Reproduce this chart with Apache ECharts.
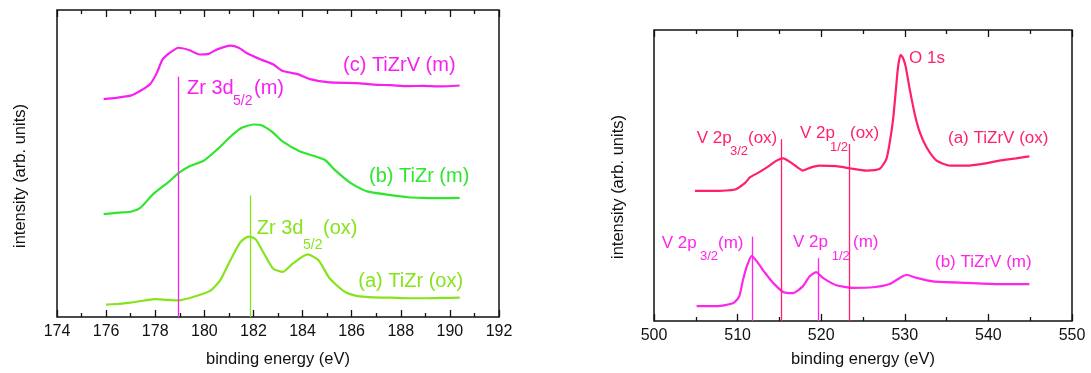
<!DOCTYPE html>
<html><head><meta charset="utf-8">
<script src="https://cdn.jsdelivr.net/npm/echarts@6/dist/echarts.min.js"></script>
<style>html,body{margin:0;padding:0;background:#fff}#c{width:1091px;height:373px}</style>
</head><body><div id="c"></div>
<script>
// ---------- data (binding energy eV, intensity arb. units 0-100) ----------
const zrAxis = { min: 174, max: 192, interval: 2 };
const vAxis  = { min: 500, max: 550, interval: 10 };

const zrC_TiZrV_m = [[175.9,71.0],[176.4,71.4],[177.0,72.1],[177.4,73.7],[177.8,75.9],[178.07,79.6],[178.3,83.9],[178.6,86.1],[178.95,87.7],[179.4,86.9],[179.8,85.5],[180.2,85.8],[180.5,87.1],[181.06,88.4],[181.4,87.7],[181.7,86.1],[182.3,83.9],[182.8,82.3],[183.2,80.1],[183.8,79.1],[184.3,77.5],[185.1,76.4],[186.2,76.2],[186.9,75.7],[187.6,75.5],[188.3,75.2],[188.9,75.3],[189.6,75.1],[190.4,75.4]];
const zrB_TiZr_m = [[175.9,33.5],[176.5,34.0],[177.0,34.3],[177.4,35.6],[177.9,39.9],[178.5,43.7],[178.95,46.9],[179.4,49.1],[179.97,50.9],[180.5,54.4],[181.06,58.7],[181.47,61.4],[182.0,62.7],[182.35,62.4],[182.76,60.3],[183.2,57.1],[183.9,53.9],[184.9,51.2],[185.3,48.0],[185.95,43.7],[186.6,41.0],[187.6,39.7],[188.3,39.0],[188.9,38.8],[189.6,38.7],[190.4,38.8]];
const zrA_TiZr_ox = [[176.0,4.0],[176.5,4.3],[177.0,4.7],[177.5,5.3],[178.0,5.8],[178.95,5.4],[179.7,6.9],[180.25,8.6],[180.65,12.0],[181.06,18.5],[181.47,24.4],[181.8,26.2],[182.08,25.4],[182.4,21.1],[182.8,15.8],[183.2,14.7],[183.6,17.4],[184.2,20.4],[184.65,18.5],[185.1,12.6],[185.7,8.3],[186.2,6.9],[186.9,6.4],[187.6,6.3],[188.3,6.1],[188.9,6.1],[189.6,6.2],[190.4,6.3]];
const zrLineEnergies = [178.95, 181.87];
const zrLineTops = [78.3, 39.6];

const vA_TiZrV_ox = [[504.9,44.7],[506.9,44.7],[509.7,45.2],[510.9,47.5],[511.5,49.4],[512.5,51.0],[513.5,52.8],[514.66,55.1],[515.45,55.9],[516.6,54.0],[517.8,51.7],[518.8,52.8],[519.8,53.4],[521.8,53.2],[523.4,52.5],[525.4,51.7],[527.0,52.3],[527.8,55.7],[528.2,61.4],[528.6,69.3],[528.9,78.4],[529.2,87.5],[529.5,91.5],[529.8,90.3],[530.1,87.5],[530.6,79.5],[531.2,71.0],[531.8,64.8],[532.6,59.7],[533.8,55.1],[535.4,53.4],[537.4,53.4],[539.3,54.0],[541.3,55.1],[543.3,55.9],[544.9,56.6]];
const vB_TiZrV_m = [[505.1,5.1],[507.5,5.1],[509.5,6.2],[510.2,8.5],[510.6,13.6],[511.1,18.8],[511.7,22.4],[512.3,20.5],[513.3,16.5],[514.25,13.1],[515.45,10.0],[516.6,9.6],[517.8,11.9],[518.6,15.3],[519.4,16.8],[520.2,14.8],[521.8,12.3],[523.8,11.4],[526.2,11.6],[528.2,12.7],[529.4,14.8],[530.2,15.9],[531.4,14.8],[533.4,13.6],[537.4,13.1],[541.3,12.7],[544.9,12.7]];
const vOxLineEnergies = [515.2, 523.3];
const vOxLineTops = [62.5, 60.8];
const vMLineEnergies = [511.8, 519.6];
const vMLineTops = [29.0, 21.6];

// ---------- styles ----------
const FONT = '"Liberation Sans", Arial, Helvetica, sans-serif';
const MAG = '#f820f0', GRN = '#2fe62f', LGR = '#86e41c', CRM = '#ff1f6c', MAG2 = '#ff26ec';

function vLines(energies, tops, color) {
  return {
    symbol: 'none', silent: true, label: { show: false }, animation: false,
    lineStyle: { type: 'solid', color: color, width: 1.3 },
    data: energies.map((e, i) => [{ coord: [e, tops[i]] }, { coord: [e, 0] }])
  };
}
function xAx(gi, cfg, pos, name, gap) {
  return {
    type: 'value', gridIndex: gi, position: pos, min: cfg.min, max: cfg.max, interval: cfg.interval,
    axisLine: { show: false },
    axisTick: { show: true, inside: true, length: 7, lineStyle: { color: '#111', width: 1.3 } },
    minorTick: { show: true, splitNumber: 2, length: 4, lineStyle: { color: '#111', width: 1.3 } },
    splitLine: { show: false }, minorSplitLine: { show: false },
    axisLabel: { show: pos === 'bottom', fontSize: 16, color: '#111', fontFamily: FONT, margin: 7 },
    name: pos === 'bottom' ? name : '', nameLocation: 'middle', nameGap: gap,
    nameTextStyle: { fontSize: 16.5, color: '#111', fontFamily: FONT }
  };
}
function yAx(gi) { return { type: 'value', gridIndex: gi, min: 0, max: 100, show: false }; }
function ser(data, color, xi, yi, ml) {
  const s = { type: 'line', data: data, xAxisIndex: xi, yAxisIndex: yi, showSymbol: false, symbol: 'none',
    smooth: 0.2, lineStyle: { color: color, width: 2.2 }, itemStyle: { color: color }, animation: false, z: 3 };
  if (ml) s.markLine = ml;
  return s;
}
function txt(str, x, y, color, size) {
  return { type: 'text', x: x, y: y, silent: true, z: 10,
    style: { text: str, fill: color, font: size + 'px ' + FONT, textAlign: 'left', textVerticalAlign: 'middle' } };
}

const option = {
  animation: false,
  backgroundColor: '#fff',
  grid: [
    { left: 57, top: 10, width: 442, height: 311, show: true, borderColor: '#111', borderWidth: 1.5, backgroundColor: 'transparent' },
    { left: 654, top: 30, width: 418, height: 293, show: true, borderColor: '#111', borderWidth: 1.5, backgroundColor: 'transparent' }
  ],
  xAxis: [
    xAx(0, zrAxis, 'bottom', 'binding energy (eV)', 34),
    xAx(0, zrAxis, 'top', '', 0),
    xAx(1, vAxis, 'bottom', 'binding energy (eV)', 30),
    xAx(1, vAxis, 'top', '', 0)
  ],
  yAxis: [yAx(0), yAx(1)],
  series: [
    ser(zrC_TiZrV_m, MAG, 0, 0, vLines([zrLineEnergies[0]], [zrLineTops[0]], MAG)),
    ser(zrB_TiZr_m, GRN, 0, 0),
    ser(zrA_TiZr_ox, LGR, 0, 0, vLines([zrLineEnergies[1]], [zrLineTops[1]], LGR)),
    ser(vA_TiZrV_ox, CRM, 2, 1, vLines(vOxLineEnergies, vOxLineTops, CRM)),
    ser(vB_TiZrV_m, MAG2, 2, 1, vLines(vMLineEnergies, vMLineTops, MAG2))
  ],
  graphic: [
    { type: 'text', x: 20, y: 176, rotation: Math.PI / 2, silent: true,
      style: { text: 'intensity (arb. units)', fill: '#111', font: '16.5px ' + FONT, textAlign: 'center', textVerticalAlign: 'middle' } },
    { type: 'text', x: 618, y: 187, rotation: Math.PI / 2, silent: true,
      style: { text: 'intensity (arb. units)', fill: '#111', font: '16.5px ' + FONT, textAlign: 'center', textVerticalAlign: 'middle' } },
    txt('(c) TiZrV (m)', 343, 65, MAG, 20),
    txt('Zr 3d', 187, 88.5, MAG, 20), txt('5/2', 233, 101.5, MAG, 14), txt('(m)', 254, 88.5, MAG, 20),
    txt('(b) TiZr (m)', 369, 176, GRN, 20),
    txt('Zr 3d', 256.7, 228.3, LGR, 20), txt('5/2', 303, 245, LGR, 14), txt('(ox)', 323, 228.3, LGR, 20),
    txt('(a) TiZr (ox)', 358.3, 281, LGR, 20),
    txt('O 1s', 909, 58.3, CRM, 17),
    txt('V 2p', 696.7, 138.3, CRM, 17), txt('3/2', 730, 151.7, CRM, 13), txt('(ox)', 748, 138.3, CRM, 17),
    txt('V 2p', 800, 133.3, CRM, 17), txt('1/2', 830, 147.3, CRM, 13), txt('(ox)', 850, 133.3, CRM, 17),
    txt('(a) TiZrV (ox)', 948, 138.3, CRM, 17),
    txt('V 2p', 661.7, 243.3, MAG2, 17), txt('3/2', 700, 256.7, MAG2, 13), txt('(m)', 718, 243.3, MAG2, 17),
    txt('V 2p', 793, 242.3, MAG2, 17), txt('1/2', 831.7, 256.7, MAG2, 13), txt('(m)', 853, 242.3, MAG2, 17),
    txt('(b) TiZrV (m)', 935, 262.3, MAG2, 17)
  ]
};
const chart = echarts.init(document.getElementById('c'), null, { renderer: 'canvas', width: 1091, height: 373 });
chart.setOption(option);
</script></body></html>
